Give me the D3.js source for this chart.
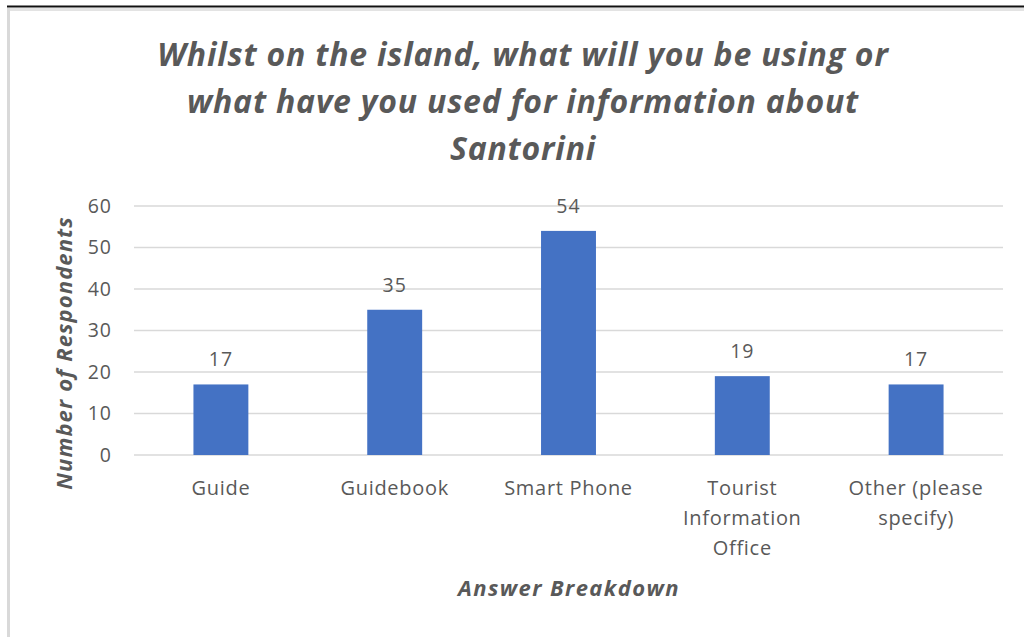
<!DOCTYPE html>
<html>
<head>
<meta charset="utf-8">
<script src="https://cdn.jsdelivr.net/npm/d3@7"></script>
<style>
  html, body { margin: 0; padding: 0; background: #fff; }
  svg { display: block; }
  text { font-family: "Open Sans", sans-serif; }
</style>
</head>
<body>
<script>
// Survey answers: sources of information about Santorini
const categories = ["Guide", "Guidebook", "Smart Phone", "Tourist Information Office", "Other (please specify)"];
const categoryLines = [["Guide"], ["Guidebook"], ["Smart Phone"], ["Tourist", "Information", "Office"], ["Other (please", "specify)"]];
const respondents = [17, 35, 54, 19, 17];
const yTicks = [0, 10, 20, 30, 40, 50, 60];
const titleLines = ["Whilst on the island, what will you be using or", "what have you used for information about", "Santorini"];

const W = 1024, H = 637;
const svg = d3.select("body").append("svg").attr("width", W).attr("height", H);

// frame
svg.append("line").attr("x1", 7).attr("x2", W).attr("y1", 6.5).attr("y2", 6.5)
  .attr("stroke", "#111").attr("stroke-width", 2);
svg.append("rect").attr("x", 7).attr("y", 8).attr("width", W - 7).attr("height", 3).attr("fill", "#e3e3e3");
svg.append("rect").attr("x", 7).attr("y", 8).attr("width", 3).attr("height", H - 8).attr("fill", "#d9d9d9");

const plot = { left: 134, right: 1003, top: 206, bottom: 455 };
const x = d3.scaleBand().domain(categories).range([plot.left, plot.right]).padding(0);
const y = d3.scaleLinear().domain([0, 60]).range([plot.bottom, plot.top]);
const barW = x.bandwidth() * 0.316;

const grey = "#595959";

// gridlines
svg.append("g").selectAll("line").data(yTicks).join("line")
  .attr("x1", plot.left).attr("x2", plot.right)
  .attr("y1", d => y(d)).attr("y2", d => y(d))
  .attr("stroke", "#d9d9d9").attr("stroke-width", 1.3);

// y tick labels
svg.append("g").selectAll("text").data(yTicks).join("text")
  .attr("x", 112).attr("y", d => y(d)).attr("dy", "0.35em")
  .attr("text-anchor", "end").attr("fill", grey).attr("font-size", 19.5)
  .attr("letter-spacing", 1)
  .text(d => d);

// bars
svg.append("g").selectAll("rect").data(respondents).join("rect")
  .attr("x", (d, i) => x(categories[i]) + x.bandwidth() / 2 - barW / 2)
  .attr("y", d => y(d))
  .attr("width", barW)
  .attr("height", d => y(0) - y(d))
  .attr("fill", "#4472c4");

// value labels
svg.append("g").selectAll("text").data(respondents).join("text")
  .attr("x", (d, i) => x(categories[i]) + x.bandwidth() / 2)
  .attr("y", d => y(d) - 18)
  .attr("text-anchor", "middle").attr("fill", grey).attr("font-size", 19.5)
  .attr("letter-spacing", 1)
  .text(d => d);

// category labels
const cat = svg.append("g").selectAll("text").data(categories).join("text")
  .attr("x", d => x(d) + x.bandwidth() / 2)
  .attr("y", 495)
  .attr("text-anchor", "middle").attr("fill", grey).attr("font-size", 20)
  .attr("letter-spacing", 0.7);
cat.each(function (d, i) {
  d3.select(this).selectAll("tspan").data(categoryLines[i]).join("tspan")
    .attr("x", x(d) + x.bandwidth() / 2)
    .attr("dy", (t, j) => j === 0 ? 0 : 30)
    .text(t => t);
});

// title
svg.append("text").attr("text-anchor", "middle").attr("fill", grey)
  .attr("font-size", 32).attr("font-weight", "bold").attr("font-style", "italic")
  .attr("letter-spacing", 0.8)
  .selectAll("tspan").data(titleLines).join("tspan")
  .attr("x", 523).attr("y", (d, i) => 66 + i * 47)
  .text(d => d);

// axis titles
svg.append("text").attr("x", 569).attr("y", 596)
  .attr("text-anchor", "middle").attr("fill", grey)
  .attr("font-size", 22).attr("font-weight", "bold").attr("font-style", "italic")
  .attr("letter-spacing", 1.4)
  .text("Answer Breakdown");
svg.append("text").attr("transform", "translate(72,353) rotate(-90)")
  .attr("text-anchor", "middle").attr("fill", grey)
  .attr("font-size", 22).attr("font-weight", "bold").attr("font-style", "italic")
  .attr("letter-spacing", 1.1)
  .text("Number of Respondents");
</script>
</body>
</html>
